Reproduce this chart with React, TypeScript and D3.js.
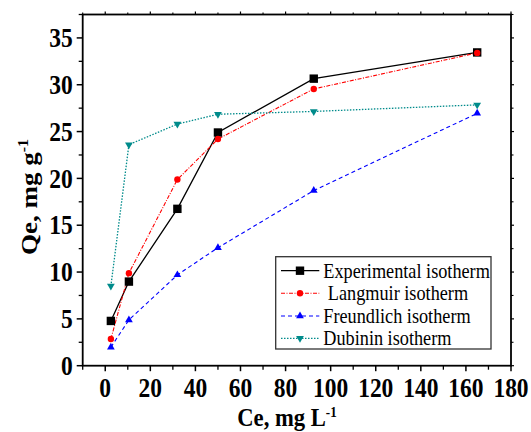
import React from "react";
import * as d3 from "d3";

const ceValues = [2.5, 10.5, 32, 50, 92.5, 165];
const experimental = [4.78, 8.98, 16.75, 24.9, 30.65, 33.45];
const langmuir = [2.85, 9.88, 19.88, 24.2, 29.55, 33.4];
const freundlich = [1.97, 4.89, 9.7, 12.6, 18.7, 26.95];
const dubinin = [8.5, 23.6, 25.8, 26.85, 27.15, 27.85];

const xMajorTicks = [0, 20, 40, 60, 80, 100, 120, 140, 160, 180];
const xMinorTicks = [-10, 10, 30, 50, 70, 90, 110, 130, 150, 170];
const yMajorTicks = [0, 5, 10, 15, 20, 25, 30, 35];
const yMinorTicks = [2.5, 7.5, 12.5, 17.5, 22.5, 27.5, 32.5, 37.5];

const legendLabels = ["Experimental isotherm", " Langmuir isotherm", "Freundlich isotherm", "Dubinin isotherm"];

const FONT = "'Liberation Serif', 'Times New Roman', serif";
const SQ = 0.87;

type SeriesDef = {
  values: number[];
  color: string;
  dash: string;
  width: number;
  marker: "square" | "circle" | "up" | "down";
};

const series: SeriesDef[] = [
  { values: experimental, color: "#000000", dash: "none", width: 1.3, marker: "square" },
  { values: langmuir, color: "#ff0000", dash: "4,1.5,1,1.5", width: 1.1, marker: "circle" },
  { values: freundlich, color: "#0000ff", dash: "4,3", width: 1.1, marker: "up" },
  { values: dubinin, color: "#008b8b", dash: "1.5,1.5", width: 1.3, marker: "down" },
];

function Marker({ type, x, y, color }: { type: string; x: number; y: number; color: string }) {
  if (type === "square") return <rect x={x - 4.2} y={y - 4.2} width={8.4} height={8.4} fill={color} />;
  if (type === "circle") return <circle cx={x} cy={y} r={3.2} fill={color} />;
  const sym = d3.symbol().type(d3.symbolTriangle).size(26)();
  return (
    <path d={sym || ""} transform={`translate(${x},${y}) rotate(${type === "down" ? 180 : 0})`} fill={color} />
  );
}

export default function App() {
  const left = 82.7, right = 511, top = 14.5, bottom = 365.7;
  const x = d3.scaleLinear().domain([-10, 180]).range([left, right]);
  const y = d3.scaleLinear().domain([0, 37.5]).range([bottom, top]);
  const line = d3.line<[number, number]>().x((d) => x(d[0])).y((d) => y(d[1]));

  const legX = 275.7, legY = 256.7, legW = 215.3, legH = 92.3;
  const rowY = [270.7, 293.3, 316, 338.3];

  return (
    <svg width={531} height={432} style={{ position: "absolute", left: 0, top: 0, background: "#fff" }} fontFamily={FONT}>
      {/* data lines */}
      {series.map((s, i) => (
        <path
          key={"l" + i}
          d={line(ceValues.map((c, j) => [c, s.values[j]] as [number, number])) || ""}
          fill="none"
          stroke={s.color}
          strokeWidth={s.width}
          strokeDasharray={s.dash}
        />
      ))}
      {series.map((s, i) =>
        ceValues.map((c, j) => (
          <Marker key={`m${i}-${j}`} type={s.marker} x={x(c)} y={y(s.values[j])} color={s.color} />
        ))
      )}

      {/* frame */}
      <rect x={left} y={top} width={right - left} height={bottom - top} fill="none" stroke="#000" strokeWidth={1.8} />

      {/* x ticks */}
      {xMajorTicks.map((t) => (
        <g key={"xt" + t}>
          <line x1={x(t)} x2={x(t)} y1={bottom} y2={bottom + 5.5} stroke="#000" strokeWidth={1.5} />
          <line x1={x(t)} x2={x(t)} y1={top} y2={top - 3} stroke="#000" strokeWidth={1.2} />
          <text
            transform={`translate(${x(t)},396.7) scale(${SQ},1)`}
            textAnchor="middle"
            fontSize={27}
            fontWeight="bold"
          >
            {t}
          </text>
        </g>
      ))}
      {xMinorTicks.map((t) => (
        <g key={"xm" + t}>
          <line x1={x(t)} x2={x(t)} y1={bottom} y2={bottom + 4} stroke="#000" strokeWidth={1.3} />
          <line x1={x(t)} x2={x(t)} y1={top} y2={top - 2} stroke="#000" strokeWidth={1.1} />
        </g>
      ))}

      {/* y ticks */}
      {yMajorTicks.map((t) => (
        <g key={"yt" + t}>
          <line x1={left} x2={left - 6} y1={y(t)} y2={y(t)} stroke="#000" strokeWidth={1.5} />
          <line x1={right} x2={right + 3} y1={y(t)} y2={y(t)} stroke="#000" strokeWidth={1.2} />
          <text
            transform={`translate(72.7,${y(t) + 9.2}) scale(${SQ},1)`}
            textAnchor="end"
            fontSize={27}
            fontWeight="bold"
          >
            {t}
          </text>
        </g>
      ))}
      {yMinorTicks.map((t) => (
        <g key={"ym" + t}>
          <line x1={left} x2={left - 4} y1={y(t)} y2={y(t)} stroke="#000" strokeWidth={1.3} />
          <line x1={right} x2={right + 2.5} y1={y(t)} y2={y(t)} stroke="#000" strokeWidth={1.1} />
        </g>
      ))}

      {/* axis titles */}
      <text transform={`translate(287,426) scale(${SQ},1)`} textAnchor="middle" fontSize={26} fontWeight="bold">
        Ce, mg L<tspan fontSize={15} dy={-9}>-1</tspan>
      </text>
      <text
        transform={`translate(37,197) scale(${SQ},1) rotate(-90)`}
        textAnchor="middle"
        fontSize={27}
        fontWeight="bold"
      >
        Qe, mg g<tspan fontSize={16} dy={-10}>-1</tspan>
      </text>

      {/* legend */}
      <rect x={legX} y={legY} width={legW} height={legH} fill="#fff" stroke="#333" strokeWidth={1.3} />
      {series.map((s, i) => (
        <g key={"lg" + i}>
          <line x1={281} x2={319.3} y1={rowY[i]} y2={rowY[i]} stroke={s.color} strokeWidth={s.width} strokeDasharray={s.dash} />
          <Marker type={s.marker} x={300} y={rowY[i]} color={s.color} />
          <text
            transform={`translate(323.3,${rowY[i] + 6.8}) scale(0.89,1)`}
            fontSize={20.5}
            style={{ whiteSpace: "pre" }}
          >
            {legendLabels[i]}
          </text>
        </g>
      ))}
    </svg>
  );
}
